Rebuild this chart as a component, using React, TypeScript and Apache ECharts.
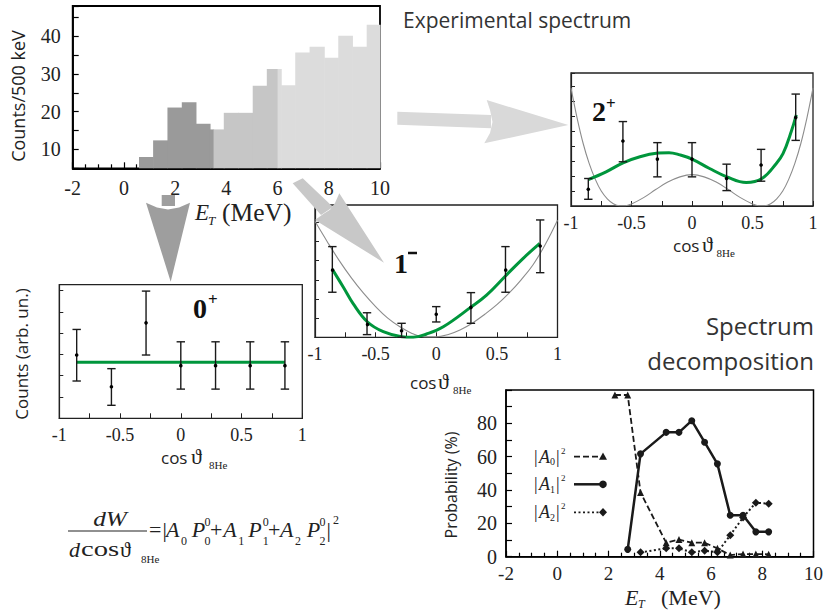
import React, { useEffect, useRef } from 'react';
import * as echarts from 'echarts';

// ---------- data ----------
const histEdges = [0.59, 1.14, 1.70, 2.26, 2.81, 3.36, 3.90, 4.47, 5.03, 5.58, 6.14, 6.69, 7.25, 7.82, 8.37, 8.92, 9.48, 10.0];
const histCounts = [8.0, 12.4, 21.1, 22.5, 16.8, 15.3, 19.7, 19.7, 26.9, 31.3, 27.0, 35.7, 37.2, 34.3, 40.1, 37.2, 43.0];
const histBounds = [3.5, 6.0];
const histColors = ['#9a9a9a', '#c6c6c6', '#dcdcdc'];
const histYMin = 5;

const angleX = [-0.857, -0.571, -0.286, 0, 0.286, 0.571, 0.857];

// 2+
const d2Y = [1.12, 4.35, 3.14, 3.14, 1.84, 2.74, 5.92];
const d2Lo = [0.45, 2.96, 1.95, 1.95, 1.03, 1.66, 4.39];
const d2Hi = [1.84, 5.65, 4.24, 4.24, 2.80, 3.79, 7.49];
const fit2X = [-0.857, -0.71, -0.57, -0.43, -0.28, -0.19, -0.1, 0, 0.145, 0.288, 0.448, 0.578, 0.697, 0.752, 0.821, 0.862];
const fit2Y = [1.77, 2.29, 2.89, 3.30, 3.54, 3.57, 3.42, 3.14, 2.51, 1.95, 1.57, 1.84, 2.85, 3.5, 5.0, 6.1];
const gray2X = [-1, -0.95, -0.9, -0.85, -0.8, -0.75, -0.7, -0.65, -0.6, -0.55, -0.5, -0.4, -0.3, -0.2, -0.1, 0, 0.1, 0.2, 0.3, 0.4, 0.5, 0.55, 0.6, 0.65, 0.7, 0.75, 0.8, 0.85, 0.9, 0.95, 1];
const gray2Y = [7.9, 5.9, 4.2, 2.85, 1.8, 1.0, 0.48, 0.15, 0.02, 0.02, 0.14, 0.56, 1.1, 1.6, 1.95, 2.1, 1.95, 1.6, 1.1, 0.56, 0.14, 0.02, 0.02, 0.15, 0.48, 1.0, 1.8, 2.85, 4.2, 5.9, 7.9];

// 1-
const d1Y = [3.55, 0.73, 0.34, 1.20, 1.56, 3.55, 4.76];
const d1Lo = [2.35, 0.14, 0.0, 0.80, 0.73, 2.35, 3.37];
const d1Hi = [4.73, 1.28, 0.73, 1.60, 2.33, 4.73, 6.12];
const fit1X = [-0.857, -0.766, -0.684, -0.569, -0.437, -0.286, -0.19, -0.08, 0.058, 0.283, 0.415, 0.571, 0.717, 0.854];
const fit1Y = [3.55, 2.61, 1.74, 0.81, 0.29, 0.03, 0.0, 0.17, 0.55, 1.56, 2.2, 3.2, 4.12, 4.9];
const gray1X = [-1, -0.9, -0.8, -0.7, -0.6, -0.5, -0.4, -0.3, -0.2, -0.1, 0, 0.1, 0.2, 0.3, 0.4, 0.5, 0.6, 0.7, 0.8, 0.9, 1];
const gray1Y = [6.05, 5.0, 4.0, 3.1, 2.3, 1.6, 1.0, 0.55, 0.2, 0.02, 0.02, 0.15, 0.4, 0.75, 1.2, 1.7, 2.3, 3.0, 3.8, 4.85, 6.1];

// 0+
const d0Y = [2.97, 1.48, 4.48, 2.47, 2.47, 2.47, 2.47];
const d0Lo = [1.75, 0.61, 2.97, 1.37, 1.37, 1.37, 1.37];
const d0Hi = [4.17, 2.33, 5.97, 3.59, 3.59, 3.59, 3.59];
const fit0X = [-0.857, 0.857];
const fit0Y = [2.63, 2.63];

// spectrum decomposition
const a0X = [2.25, 2.75, 3.25, 4.25, 4.75, 5.25, 5.75, 6.25, 6.75, 7.25, 7.75, 8.25];
const a0Y = [97, 97, 38.5, 8.4, 10.3, 8.4, 8.4, 5, 1, 1.6, 1.6, 1.4];
const a1X = [2.75, 3.25, 4.25, 4.75, 5.25, 5.75, 6.25, 6.75, 7.25, 7.75, 8.25];
const a1Y = [4.4, 61.7, 74.6, 74.6, 81.6, 68.7, 55.7, 24.9, 24.9, 14.9, 14.9];
const a2X = [3.25, 4.25, 4.75, 5.25, 5.75, 6.25, 6.75, 7.25, 7.75, 8.25];
const a2Y = [2.6, 5, 5, 2.6, 3.6, 2.6, 12.9, 23.5, 32.4, 31.8];

// ---------- styling ----------
const SERIF = '"Liberation Serif", "Times New Roman", serif';
const SANS = '"Open Sans", sans-serif';
const GREEN = '#00963c';
const INK = '#1a1a1a';

const zip = (xs: number[], ys: number[]) => xs.map((x, i) => [x, ys[i]]);

function histData() {
  const out: number[][] = [];
  for (let i = 0; i < histCounts.length; i++) {
    const cuts = [histEdges[i]];
    histBounds.forEach((b) => { if (b > histEdges[i] && b < histEdges[i + 1]) cuts.push(b); });
    cuts.push(histEdges[i + 1]);
    for (let j = 0; j < cuts.length - 1; j++) {
      const mid = (cuts[j] + cuts[j + 1]) / 2;
      const c = mid < histBounds[0] ? 0 : mid < histBounds[1] ? 1 : 2;
      out.push([cuts[j], cuts[j + 1], histCounts[i], c]);
    }
  }
  return out;
}

function errSeries(idx: number, ys: number[], lo: number[], hi: number[]) {
  return {
    type: 'custom',
    xAxisIndex: idx,
    yAxisIndex: idx,
    z: 5,
    clip: false,
    encode: { x: 0, y: [1, 2, 3] },
    data: angleX.map((x, i) => [x, ys[i], lo[i], hi[i]]),
    renderItem: (_p: any, api: any) => {
      const x = api.value(0);
      const pc = api.coord([x, api.value(1)]);
      const pl = api.coord([x, api.value(2)]);
      const ph = api.coord([x, api.value(3)]);
      const w = 4.2;
      const ls = { stroke: INK, lineWidth: 1.4 };
      return {
        type: 'group',
        children: [
          { type: 'line', shape: { x1: pl[0], y1: pl[1], x2: ph[0], y2: ph[1] }, style: ls },
          { type: 'line', shape: { x1: pl[0] - w, y1: pl[1], x2: pl[0] + w, y2: pl[1] }, style: ls },
          { type: 'line', shape: { x1: ph[0] - w, y1: ph[1], x2: ph[0] + w, y2: ph[1] }, style: ls },
          { type: 'circle', shape: { cx: pc[0], cy: pc[1], r: 1.8 }, style: { fill: '#000' } },
        ],
      };
    },
  };
}

function curve(idx: number, xs: number[], ys: number[], color: string, width: number) {
  return {
    type: 'line', xAxisIndex: idx, yAxisIndex: idx, data: zip(xs, ys), smooth: 0.4,
    symbol: 'none', lineStyle: { color, width }, z: 3, silent: true,
  };
}

function angX(idx: number) {
  return {
    gridIndex: idx, type: 'value', min: -1, max: 1, interval: 0.5,
    axisLine: { show: true, onZero: false, lineStyle: { color: '#222', width: 1.2 } },
    axisTick: { show: true, inside: true, length: 5, lineStyle: { color: '#222' } },
    minorTick: { show: true, splitNumber: 2, length: 5, lineStyle: { color: '#222' } },
    splitLine: { show: false }, minorSplitLine: { show: false },
    axisLabel: { fontFamily: SERIF, fontSize: 18, color: '#222', margin: 8 },
  };
}
function angY(idx: number, max: number) {
  return {
    gridIndex: idx, type: 'value', min: 0, max, interval: 1,
    axisLine: { show: true, onZero: false, lineStyle: { color: '#222', width: 1.2 } },
    axisTick: { show: true, inside: true, length: 4, lineStyle: { color: '#222' } },
    axisLabel: { show: false }, splitLine: { show: false },
  };
}

type G = any;
const T = (x: number, y: number, text: string, font: Partial<{ size: number; family: string; style: string; weight: string; align: string; v: string; rot: number; fill: string; sx: number }> = {}): G => ({
  type: 'text', x, y, z: 50, rotation: font.rot || 0, scaleX: font.sx || 1,
  style: {
    text, fill: font.fill || '#222', fontSize: font.size || 20, fontFamily: font.family || SERIF,
    fontStyle: font.style || 'normal', fontWeight: font.weight || 'normal',
    align: font.align || 'left', verticalAlign: font.v || 'middle',
  },
});

function buildGraphics(): G[] {
  const g: G[] = [];
  // arrows
  g.push({ type: 'polygon', z: 1, shape: { points: [[397.3, 111.7], [491, 115], [491, 128.3], [397.3, 124.7]] }, style: { fill: '#d9d9d9' } });
  g.push({ type: 'polygon', z: 1, shape: { points: [[486.7, 100], [568.3, 125], [484.3, 143.3], [490, 133], [492.5, 122], [490, 110]] }, style: { fill: '#d9d9d9' } });
  g.push({ type: 'rect', z: 1, shape: { x: 161.7, y: 195, width: 13.3, height: 11 }, style: { fill: '#9e9e9e' } });
  g.push({ type: 'polygon', z: 1, shape: { points: [[146, 202.7], [157, 207.5], [168, 209.5], [179, 207.5], [190, 202.7], [170.7, 281.7]] }, style: { fill: '#9e9e9e' } });
  g.push({ type: 'polygon', z: 1, shape: { points: [[292.7, 183.3], [302.7, 178.3], [333, 207], [321, 215]] }, style: { fill: '#c8c8c8' } });
  g.push({ type: 'polygon', z: 1, shape: { points: [[315, 220], [324, 213.5], [330, 209.8], [335, 203], [339.3, 193.3], [384, 262.7]] }, style: { fill: '#c8c8c8' } });

  // titles
  g.push(T(403, 20, 'Experimental spectrum', { size: 21, family: SANS, fill: '#333' }));
  g.push(T(814, 325, 'Spectrum', { size: 24, family: SANS, fill: '#333', align: 'right' }));
  g.push(T(814, 360, 'decomposition', { size: 24, family: SANS, fill: '#333', align: 'right' }));

  // histogram axis names
  g.push(T(17.7, 96, 'Counts/500 keV', { size: 18, family: SANS, align: 'center', rot: Math.PI / 2 }));
  g.push(T(195, 212, 'E', { size: 23, style: 'italic' }));
  g.push(T(208, 220, 'T', { size: 13, style: 'italic' }));
  g.push(T(222, 212, '(MeV)', { size: 25.5 }));

  // angular axis names
  const cosName = (cx: number, th: number, sub: number, y: number) => {
    g.push(T(cx, y, 'cos', { size: 17, family: SANS }));
    g.push(T(th, y - 1, 'ϑ', { size: 22 }));
    g.push(T(sub, y + 8, '8He', { size: 11 }));
  };
  cosName(673, 702, 716.5, 245);
  cosName(410, 438, 453, 382);
  cosName(161, 191, 209, 457);
  g.push(T(21.7, 354, 'Counts (arb. un.)', { size: 17, family: SANS, align: 'center', rot: Math.PI / 2 }));

  // panel labels
  g.push(T(592, 111, '2', { size: 28, weight: 'bold', fill: '#111' }));
  g.push(T(606, 103, '+', { size: 17, weight: 'bold', fill: '#111' }));
  g.push(T(394, 263, '1', { size: 28, weight: 'bold', fill: '#111' }));
  g.push({ type: 'line', z: 50, shape: { x1: 408, y1: 253, x2: 417, y2: 253 }, style: { stroke: '#111', lineWidth: 2.5 } });
  g.push(T(193, 308, '0', { size: 28, weight: 'bold', fill: '#111' }));
  g.push(T(208, 299, '+', { size: 17, weight: 'bold', fill: '#111' }));

  // probability panel names
  g.push(T(451, 485, 'Probability (%)', { size: 16, family: SANS, align: 'center', rot: Math.PI / 2 }));
  g.push(T(625, 597, 'E', { size: 22, style: 'italic' }));
  g.push(T(638, 604, 'T', { size: 12, style: 'italic' }));
  g.push(T(661, 597, '(MeV)', { size: 22 }));

  // legend
  const legY = [456.7, 484.3, 512.3];
  const legDash = [[6, 3], null, [2, 2.5]];
  legY.forEach((y, i) => {
    g.push(T(534, y, '|', { size: 18 }));
    g.push(T(539, y, 'A', { size: 18, style: 'italic' }));
    g.push(T(550, y + 5, String(i), { size: 10 }));
    g.push(T(556, y, '|', { size: 18 }));
    g.push(T(561, y - 6, '2', { size: 9 }));
    g.push({ type: 'line', z: 50, shape: { x1: 574, y1: y, x2: 601, y2: y }, style: { stroke: INK, lineWidth: i === 1 ? 2.5 : 1.8, lineDash: legDash[i] || undefined } });
  });
  g.push({ type: 'polygon', z: 51, shape: { points: [[603, 452.5], [607, 459.7], [599, 459.7]] }, style: { fill: INK } });
  g.push({ type: 'circle', z: 51, shape: { cx: 603, cy: 484.3, r: 3.8 }, style: { fill: INK } });
  g.push({ type: 'polygon', z: 51, shape: { points: [[603, 508], [607, 512.3], [603, 516.6], [599, 512.3]] }, style: { fill: INK } });

  // formula
  g.push(T(110, 519, 'dW', { size: 22, style: 'italic', align: 'center', sx: 1.15 }));
  g.push({ type: 'line', z: 50, shape: { x1: 68, y1: 531, x2: 147, y2: 531 }, style: { stroke: '#222', lineWidth: 1.2 } });
  g.push(T(69, 549, 'd', { size: 22, style: 'italic' }));
  g.push(T(81, 549, 'cos', { size: 22, sx: 1.3 }));
  g.push(T(120, 549, 'ϑ', { size: 22 }));
  g.push(T(141, 559, '8He', { size: 11 }));
  const FY = 529;
  g.push(T(149, FY, '=', { size: 22 }));
  g.push(T(162.5, FY, '|', { size: 22 }));
  const terms = [
    { a: 166, s: 181, p: 191.7, sp: 204.5, sub: '0' },
    { a: 223.3, s: 238.3, p: 248.3, sp: 262.7, sub: '1' },
    { a: 280, s: 295, p: 306.7, sp: 319.5, sub: '2' },
  ];
  terms.forEach((t) => {
    g.push(T(t.a, FY, 'A', { size: 22, style: 'italic' }));
    g.push(T(t.s, FY + 12, t.sub, { size: 12 }));
    g.push(T(t.p, FY, 'P', { size: 22, style: 'italic' }));
    g.push(T(t.sp, FY - 7, '0', { size: 12 }));
    g.push(T(t.sp, FY + 12, t.sub, { size: 12 }));
  });
  g.push(T(210, FY, '+', { size: 22 }));
  g.push(T(268, FY, '+', { size: 22 }));
  g.push(T(326.5, FY, '|', { size: 22 }));
  g.push(T(333, FY - 9, '2', { size: 12 }));
  return g;
}

function buildOption() {
  const histAxisX = {
    gridIndex: 0, type: 'value', min: -2, max: 10, interval: 2,
    axisLine: { show: true, onZero: false, lineStyle: { color: '#000', width: 1.8 } },
    axisTick: { show: true, inside: true, length: 6, lineStyle: { color: '#000', width: 1.2 } },
    minorTick: { show: true, splitNumber: 4, length: 4, lineStyle: { color: '#000', width: 1.2 } },
    splitLine: { show: false }, minorSplitLine: { show: false },
    axisLabel: { fontFamily: SERIF, fontSize: 20, color: '#222', margin: 10 },
  };
  const histAxisY = {
    gridIndex: 0, type: 'value', min: histYMin, max: 48, interval: 5,
    axisLine: { show: true, onZero: false, lineStyle: { color: '#000', width: 1.8 } },
    axisTick: { show: true, inside: true, length: 6, lineStyle: { color: '#000', width: 1.2 } },
    splitLine: { show: false },
    axisLabel: {
      fontFamily: SERIF, fontSize: 20, color: '#222', margin: 12,
      formatter: (v: number) => (v % 10 === 0 && v <= 40 ? String(v) : ''),
    },
  };
  const probAxisX = {
    ...histAxisX, gridIndex: 4,
    axisLine: { show: true, onZero: false, lineStyle: { color: '#000', width: 1.5 } },
    axisLabel: { fontFamily: SERIF, fontSize: 19, color: '#222', margin: 7 },
  };
  const probAxisY = {
    gridIndex: 4, type: 'value', min: 0, max: 100, interval: 10,
    axisLine: { show: true, onZero: false, lineStyle: { color: '#000', width: 1.5 } },
    axisTick: { show: true, inside: true, length: 6, lineStyle: { color: '#000', width: 1.2 } },
    splitLine: { show: false },
    axisLabel: {
      fontFamily: SERIF, fontSize: 20, color: '#222', margin: 9,
      formatter: (v: number) => (v % 20 === 0 && v <= 80 ? String(v) : ''),
    },
  };

  const box = (b: number, c = '#222') => ({ show: true, borderColor: c, borderWidth: b, backgroundColor: 'transparent', containLabel: false });

  return {
    animation: false,
    grid: [
      { left: 72.7, top: 6, width: 307.3, height: 162.3, ...box(1.8, '#000') },
      { left: 571, top: 73, width: 242, height: 133, ...box(1.3) },
      { left: 315, top: 205, width: 242.5, height: 132.3, ...box(1.3) },
      { left: 59.3, top: 284.7, width: 243, height: 133.6, ...box(1.3) },
      { left: 506, top: 390, width: 308, height: 166.7, ...box(1.5, '#000') },
    ],
    xAxis: [histAxisX, angX(1), angX(2), angX(3), probAxisX],
    yAxis: [histAxisY, angY(1, 8.9), angY(2, 6.9), angY(3, 6.27), probAxisY],
    series: [
      {
        type: 'custom', xAxisIndex: 0, yAxisIndex: 0, z: 1,
        encode: { x: [0, 1], y: 2 },
        data: histData(),
        renderItem: (_p: any, api: any) => {
          const a = api.coord([api.value(0), api.value(2)]);
          const b = api.coord([api.value(1), histYMin]);
          return {
            type: 'rect',
            shape: { x: a[0], y: a[1], width: b[0] - a[0] + 0.6, height: b[1] - a[1] },
            style: { fill: histColors[api.value(3)] },
          };
        },
      },
      curve(1, gray2X, gray2Y, '#8c8c8c', 1.1),
      curve(1, fit2X, fit2Y, GREEN, 3),
      errSeries(1, d2Y, d2Lo, d2Hi),
      curve(2, gray1X, gray1Y, '#8c8c8c', 1.1),
      curve(2, fit1X, fit1Y, GREEN, 3),
      errSeries(2, d1Y, d1Lo, d1Hi),
      curve(3, fit0X, fit0Y, GREEN, 3),
      errSeries(3, d0Y, d0Lo, d0Hi),
      {
        type: 'line', xAxisIndex: 4, yAxisIndex: 4, data: zip(a0X, a0Y),
        symbol: 'triangle', symbolSize: 7, itemStyle: { color: INK },
        lineStyle: { color: INK, width: 1.8, type: [6, 3] },
      },
      {
        type: 'line', xAxisIndex: 4, yAxisIndex: 4, data: zip(a1X, a1Y),
        symbol: 'circle', symbolSize: 7, itemStyle: { color: INK },
        lineStyle: { color: INK, width: 2.5 },
      },
      {
        type: 'line', xAxisIndex: 4, yAxisIndex: 4, data: zip(a2X, a2Y),
        symbol: 'diamond', symbolSize: 8, itemStyle: { color: INK },
        lineStyle: { color: INK, width: 2, type: [2, 2.5] },
      },
    ],
    graphic: { elements: buildGraphics() },
  };
}

export default function App() {
  const ref = useRef<HTMLDivElement>(null);
  useEffect(() => {
    if (!ref.current) return;
    const chart = echarts.init(ref.current, undefined, { renderer: 'svg' });
    chart.setOption(buildOption() as any);
    return () => chart.dispose();
  }, []);
  return (
    <div
      ref={ref}
      style={{ position: 'fixed', left: 0, top: 0, width: 826, height: 613, background: '#fff' }}
    />
  );
}
